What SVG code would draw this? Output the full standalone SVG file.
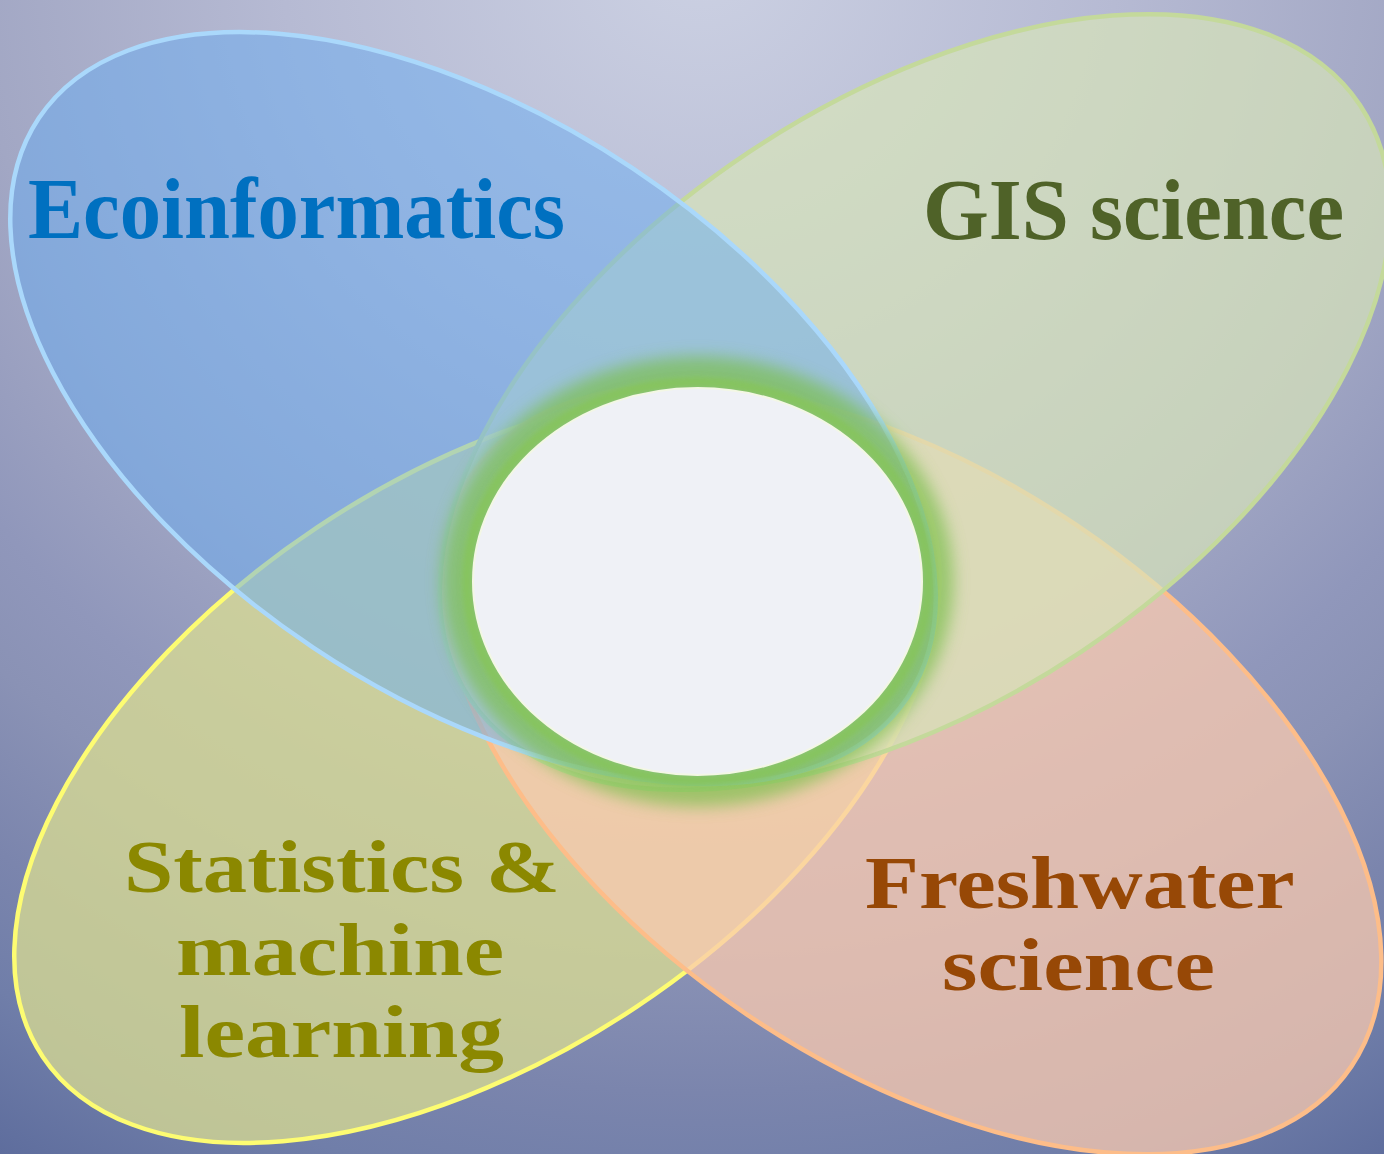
<svg xmlns="http://www.w3.org/2000/svg" width="1384" height="1154" viewBox="0 0 1384 1154">
  <defs>
    <radialGradient id="bg" gradientUnits="userSpaceOnUse" cx="700" cy="-50" r="1393">
      <stop offset="0" stop-color="#ccd1e3"/>
      <stop offset="0.3" stop-color="#b6bad3"/>
      <stop offset="0.52" stop-color="#a2a7c4"/>
      <stop offset="0.65" stop-color="#9097bb"/>
      <stop offset="0.72" stop-color="#8a92b5"/>
      <stop offset="0.82" stop-color="#7b85ad"/>
      <stop offset="0.9" stop-color="#707ea9"/>
      <stop offset="1" stop-color="#5e6d9d"/>
    </radialGradient>
    <filter id="soft" x="-20%" y="-20%" width="140%" height="140%">
      <feGaussianBlur stdDeviation="8"/>
    </filter>
    <filter id="soft2" x="-20%" y="-20%" width="140%" height="140%">
      <feGaussianBlur stdDeviation="2.5"/>
    </filter>
    <style>
      .petal { stroke-width: 4.5; }
      .label { font-family: "Liberation Serif", "Times New Roman", serif; font-weight: bold; font-size: 86px; }
      .multi { font-size: 74px; }
    </style>
  </defs>

  <rect x="0" y="0" width="1384" height="1154" fill="url(#bg)"/>

  <g id="statistics">
    <ellipse class="petal" cx="0" cy="0" rx="522" ry="288" transform="translate(477 767) rotate(-33.7)" fill="#dbdd92" fill-opacity="0.75" stroke="#fdfc72"/>
    <text class="label multi" fill="#8b8800">
      <tspan x="124" y="892" textLength="436" lengthAdjust="spacingAndGlyphs">Statistics &amp;</tspan>
      <tspan x="176" y="974.5" textLength="328" lengthAdjust="spacingAndGlyphs">machine</tspan>
      <tspan x="179" y="1057" textLength="325" lengthAdjust="spacingAndGlyphs">learning</tspan>
    </text>
  </g>

  <g id="freshwater">
    <ellipse class="petal" cx="0" cy="0" rx="530" ry="295" transform="translate(912 770) rotate(34)" fill="#f9caaf" fill-opacity="0.75" stroke="#fdbd89"/>
    <text class="label multi" fill="#974806">
      <tspan x="865" y="907.5" textLength="428" lengthAdjust="spacingAndGlyphs">Freshwater</tspan>
      <tspan x="942" y="990" textLength="273" lengthAdjust="spacingAndGlyphs">science</tspan>
    </text>
  </g>

  <g id="gis">
    <ellipse class="petal" cx="0" cy="0" rx="535" ry="300" transform="translate(915 402) rotate(-33.7)" fill="#d7e4b9" fill-opacity="0.7" stroke="#c4d99b"/>
    <text class="label" fill="#4f6228" x="923" y="239" textLength="421" lengthAdjust="spacingAndGlyphs">GIS science</text>
  </g>

  <g id="ecoinformatics">
    <ellipse class="petal" cx="0" cy="0" rx="522" ry="288" transform="translate(473 408) rotate(33.7)" fill="#68abf2" fill-opacity="0.5" stroke="#aad8fb"/>
    <text class="label" fill="#0070c0" x="28" y="238" textLength="537" lengthAdjust="spacingAndGlyphs">Ecoinformatics</text>
  </g>

  <g id="core">
    <ellipse cx="697.5" cy="581.5" rx="240" ry="209" fill="none" stroke="#7cbf4e" stroke-width="32" opacity="0.7" filter="url(#soft)"/>
    <ellipse cx="697.5" cy="581.5" rx="230" ry="199" fill="none" stroke="#86c45c" stroke-width="12" opacity="0.9" filter="url(#soft2)"/>
    <ellipse cx="697.5" cy="581.5" rx="224.5" ry="193.5" fill="#eff1f6" stroke="#f3f7e4" stroke-width="2"/>
  </g>

  <g id="connectors"/>
</svg>
